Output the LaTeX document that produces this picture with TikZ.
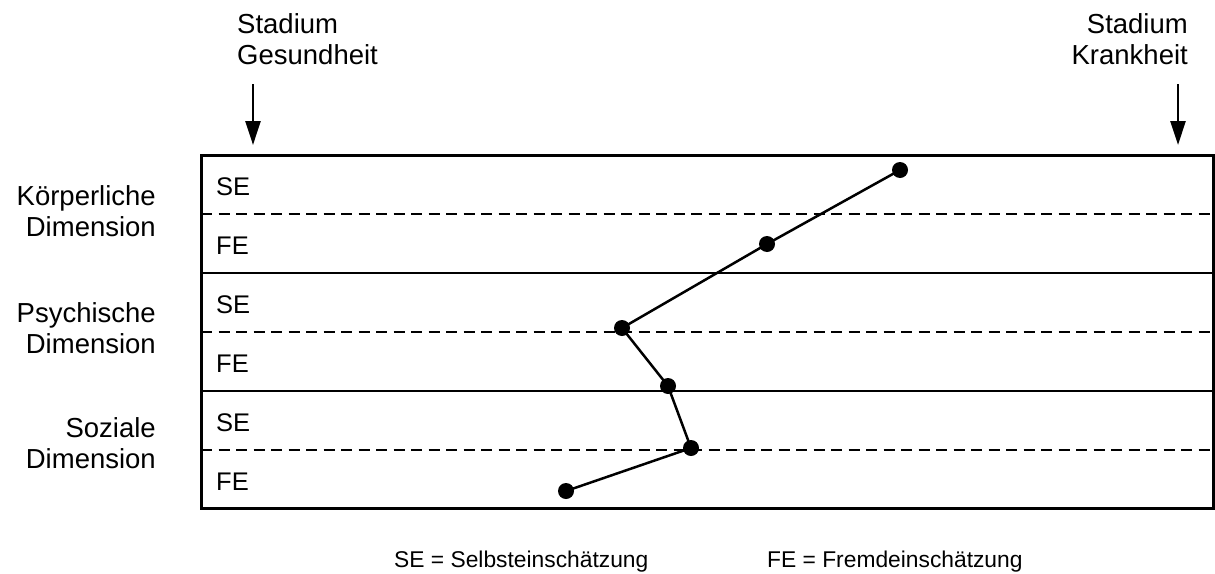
\documentclass[tikz,border=0pt]{standalone}
\usepackage{fontspec}
\setmainfont{Liberation Sans}
\usetikzlibrary{arrows.meta}
\begin{document}
\begin{tikzpicture}[x=1pt,y=-1pt,
  lbl/.style={font=\fontsize{27.5}{31.5}\selectfont, inner sep=0pt},
  rowlbl/.style={font=\fontsize{25.5}{30}\selectfont, inner sep=0pt, anchor=base west},
  leglbl/.style={font=\fontsize{22.8}{27}\selectfont, inner sep=0pt, anchor=base west},
  frame/.style={line width=3pt},
  sepsolid/.style={line width=2.8pt},
  sepdash/.style={line width=2.6pt, dash pattern=on 11pt off 6.5pt},
  dot/.style={circle, fill=black, inner sep=0pt, minimum size=16pt},
  link/.style={line width=2.5pt},
  stadarrow/.style={line width=2.6pt, -{Triangle[length=24pt,width=15pt]}}
]
\useasboundingbox (0,0) rectangle (1215,573);
% frame and rows
\draw[frame] (201,155) rectangle (1213.5,508);
\draw[sepdash] (201,214) -- (1214,214);
\draw[sepsolid] (201,273) -- (1214,273);
\draw[sepdash] (201,332) -- (1214,332);
\draw[sepsolid] (201,391) -- (1214,391);
\draw[sepdash] (201,450) -- (1214,450);
% headers
\node[lbl, anchor=north west, align=left] (gesund) at (237,13) {Stadium\\Gesundheit};
\node[lbl, anchor=north east, align=right] (krank) at (1188,13) {Stadium\\Krankheit};
\coordinate (ga1) at (253,84);
\coordinate (ga2) at (253,145);
\coordinate (ka1) at (1178,84);
\coordinate (ka2) at (1178,145);
\draw[stadarrow] (ga1) -- (ga2);
\draw[stadarrow] (ka1) -- (ka2);
% dimension labels
\node[lbl, anchor=north east, align=right] (koerp) at (156,185) {Körperliche\\Dimension};
\node[lbl, anchor=north east, align=right] (psych) at (156,302) {Psychische\\Dimension};
\node[lbl, anchor=north east, align=right] (sozial) at (156,417) {Soziale\\Dimension};
% row labels
\node[rowlbl] (se1) at (216,195) {SE};
\node[rowlbl] (fe1) at (216,254) {FE};
\node[rowlbl] (se2) at (216,313) {SE};
\node[rowlbl] (fe2) at (216,372) {FE};
\node[rowlbl] (se3) at (216,431) {SE};
\node[rowlbl] (fe3) at (216,490) {FE};
% profile
\node[dot] (p1) at (900,170) {};
\node[dot] (p2) at (767,244) {};
\node[dot] (p3) at (622,328) {};
\node[dot] (p4) at (668,386) {};
\node[dot] (p5) at (691,448) {};
\node[dot] (p6) at (566,491) {};
\draw[link] (p1.center) -- (p2.center) -- (p3.center) -- (p4.center) -- (p5.center) -- (p6.center);
% legend
\node[leglbl] (leg1) at (394,567) {SE = Selbsteinschätzung};
\node[leglbl] (leg2) at (767,567) {FE = Fremdeinschätzung};
\end{tikzpicture}
\end{document}
